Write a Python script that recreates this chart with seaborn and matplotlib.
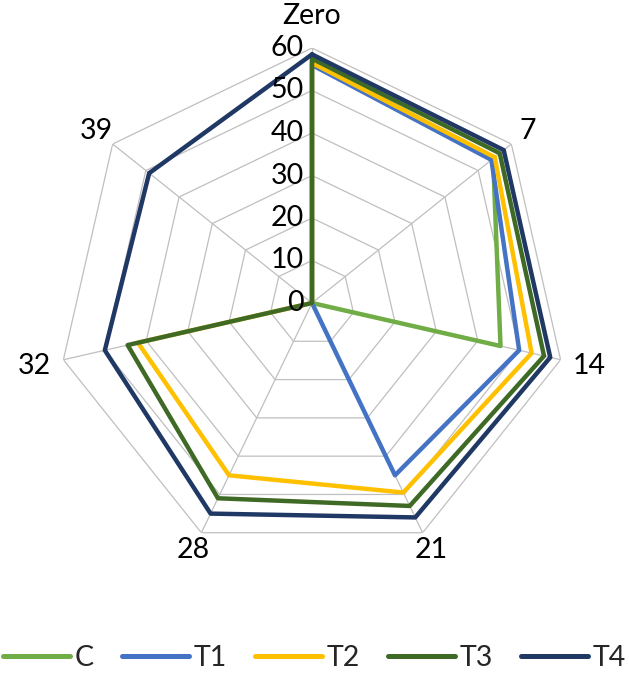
import numpy as np
import pandas as pd
import matplotlib
matplotlib.use("Agg")
import matplotlib.pyplot as plt
import seaborn as sns

# categories (days) and series values
days = ["Zero", "7", "14", "21", "28", "32", "39"]
c_vals = [57, 54.5, 45.5, 0, 0, 0, 0]
t1_vals = [56, 54, 50, 45, 0, 0, 0]
t2_vals = [56.5, 55, 53, 49.5, 45, 42, 0]
t3_vals = [57.5, 56.5, 56, 53, 51, 44.5, 0]
t4_vals = [58.5, 57.7, 57.5, 56, 55, 50, 49]
series_names = ["C", "T1", "T2", "T3", "T4"]
series_colors = ["#70AD47", "#4472C4", "#FFC000", "#3F6A26", "#1F3864"]
r_ticks = [0, 10, 20, 30, 40, 50, 60]

sns.set_theme(style="white")
plt.rcParams["font.family"] = ["Lato", "DejaVu Sans"]

n = len(days)
theta = np.linspace(0, 2 * np.pi, n, endpoint=False)
theta_closed = np.append(theta, 2 * np.pi)

rows = []
for name, vals in zip(series_names, [c_vals, t1_vals, t2_vals, t3_vals, t4_vals]):
    closed = list(vals) + [vals[0]]
    for i, (t, v) in enumerate(zip(theta_closed, closed)):
        rows.append({"theta": t, "value": v, "series": name, "order": i})
df = pd.DataFrame(rows)

fig = plt.figure(figsize=(6.29, 6.73), dpi=100)
cx, cy, rad = 312 / 629, 1 - 303 / 673, 255
ax = fig.add_axes([cx - rad / 629, cy - rad / 673, 2 * rad / 629, 2 * rad / 673],
                  projection="polar")
ax.set_theta_zero_location("N")
ax.set_theta_direction(-1)
ax.set_ylim(0, 60)
ax.grid(False)
ax.set_xticks([])
ax.set_yticks([])
ax.spines["polar"].set_visible(False)

# polygon grid like the spreadsheet radar chart
grid_col = "#BFBFBF"
for lvl in r_ticks[1:]:
    ax.plot(theta_closed, [lvl] * len(theta_closed), color=grid_col, lw=0.9, zorder=1)
for t in theta:
    ax.plot([t, t], [0, 60], color=grid_col, lw=0.9, zorder=1)

sns.lineplot(data=df, x="theta", y="value", hue="series", hue_order=series_names,
             palette=series_colors, sort=False, estimator=None, lw=3.2, ax=ax, zorder=3)
ax.set_xlabel("")
ax.set_ylabel("")
ax.set_ylim(0, 60)

handles, labels = ax.get_legend_handles_labels()
ax.get_legend().remove()

# radial tick labels along the vertical axis
for v in r_ticks:
    ax.annotate(str(v), xy=(0, v), xytext=(-6, 0), textcoords="offset points",
                ha="right", va="center", fontsize=20.5, color="#000000", zorder=4)

# category labels
label_r = [67.5, 65, 67, 64.5, 64.5, 67, 65]
for t, lab, r in zip(theta, days, label_r):
    ax.text(t, r, lab, ha="center", va="center", fontsize=20.5, color="#000000")

leg = fig.legend(handles, labels, loc="lower center", bbox_to_anchor=(0.5, -0.035), ncol=5,
                 frameon=False, fontsize=20.5, handlelength=2.35, handletextpad=0.15,
                 columnspacing=1.0)
for h in leg.get_lines():
    h.set_linewidth(3.6)

fig.savefig("out.png", dpi=100)
